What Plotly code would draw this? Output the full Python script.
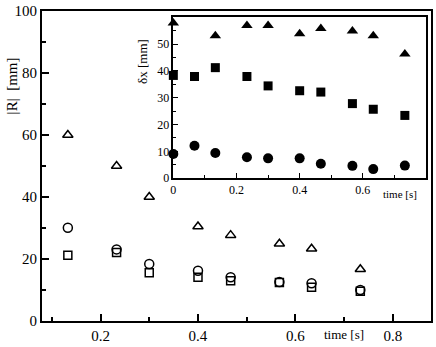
import plotly.graph_objects as go

# main plot: |R| vs time
t_main = [0.133, 0.233, 0.3, 0.4, 0.467, 0.567, 0.633, 0.733]
r_tri = [60, 50, 40, 30.5, 27.7, 24.9, 23.3, 16.7]
r_circ = [30.1, 23.1, 18.4, 16.2, 14.1, 12.6, 12.2, 10.0]
r_sq = [21.2, 22.1, 15.6, 14.1, 13.0, 12.4, 10.9, 9.6]

# inset: delta x vs time
t_in_tri = [0, 0.133, 0.233, 0.3, 0.4, 0.467, 0.567, 0.633, 0.733]
dx_tri = [57.8, 53.1, 56.9, 56.9, 53.8, 55.8, 54.9, 53.1, 46.3]
t_in = [0, 0.067, 0.133, 0.233, 0.3, 0.4, 0.467, 0.567, 0.633, 0.733]
dx_sq = [38.3, 37.9, 41.2, 37.9, 34.4, 32.6, 32.1, 27.8, 25.7, 23.4]
dx_circ = [9.0, 12.1, 9.4, 7.8, 7.4, 7.4, 5.4, 4.6, 3.4, 4.7]

FONT = "Liberation Serif"

fig = go.Figure()

def open_marker(sym, size):
    return dict(symbol=sym, size=size, color="black", line=dict(color="black", width=1.5))

fig.add_trace(go.Scatter(x=t_main, y=r_tri, mode="markers", marker=open_marker("triangle-up-open", 9)))
fig.add_trace(go.Scatter(x=t_main, y=r_circ, mode="markers", marker=open_marker("circle-open", 9)))
fig.add_trace(go.Scatter(x=t_main, y=r_sq, mode="markers", marker=open_marker("square-open", 8)))

fig.add_trace(go.Scatter(x=t_in_tri, y=dx_tri, mode="markers", xaxis="x2", yaxis="y2", cliponaxis=False,
                         marker=dict(symbol="triangle-up", size=10, color="black")))
fig.add_trace(go.Scatter(x=t_in, y=dx_sq, mode="markers", xaxis="x2", yaxis="y2", cliponaxis=False,
                         marker=dict(symbol="square", size=9, color="black")))
fig.add_trace(go.Scatter(x=t_in, y=dx_circ, mode="markers", xaxis="x2", yaxis="y2", cliponaxis=False,
                         marker=dict(symbol="circle", size=10, color="black")))

fig.update_layout(
    width=436, height=347,
    margin=dict(l=42, r=3, t=11, b=24),
    plot_bgcolor="white", paper_bgcolor="white",
    showlegend=False,
    font=dict(family=FONT, size=14, color="black"),
    xaxis=dict(range=[0.08, 0.878], tickvals=[0.2, 0.4, 0.6, 0.8], ticktext=["0.2", "0.4", "0.6", "0.8"],
               ticks="inside", ticklen=7, tickwidth=1.5, tickcolor="black",
               minor=dict(tickvals=[0.1, 0.3, 0.5, 0.7], ticks="inside", ticklen=4, tickcolor="black"),
               showline=True, linewidth=2, linecolor="black", mirror=True, showgrid=False, zeroline=False,
               tickfont=dict(size=15)),
    yaxis=dict(range=[0, 100], tickvals=[0, 20, 40, 60, 80, 100],
               ticks="inside", ticklen=7, tickwidth=1.5, tickcolor="black",
               minor=dict(tickvals=[10, 30, 50, 70, 90], ticks="inside", ticklen=4, tickcolor="black"),
               showline=True, linewidth=2, linecolor="black", mirror=True, showgrid=False, zeroline=False,
               tickfont=dict(size=15)),
    xaxis2=dict(domain=[0.3376, 0.988], anchor="y2", range=[0, 0.801],
                tickvals=[0, 0.2, 0.4, 0.6], ticktext=["0", "0.2", "0.4", "0.6"],
                ticks="inside", ticklen=5, tickwidth=1, tickcolor="black",
                minor=dict(tickvals=[0.1, 0.3, 0.5, 0.7, 0.8], ticks="inside", ticklen=3, tickcolor="black"),
                showline=True, linewidth=1.5, linecolor="black", mirror=True, showgrid=False, zeroline=False,
                tickfont=dict(size=12)),
    yaxis2=dict(domain=[0.4606, 0.98], anchor="x2", range=[0, 60],
                tickvals=[0, 10, 20, 30, 40, 50],
                ticks="inside", ticklen=5, tickwidth=1, tickcolor="black",
                minor=dict(tickvals=[5, 15, 25, 35, 45, 55], ticks="inside", ticklen=3, tickcolor="black"),
                showline=True, linewidth=1.5, linecolor="black", mirror=True, showgrid=False, zeroline=False,
                tickfont=dict(size=12)),
)

fig.add_annotation(text="time [s]", xref="paper", yref="paper", x=0.777, y=-0.045,
                   showarrow=False, font=dict(size=13), xanchor="center", yanchor="middle")
fig.add_annotation(text="|R|  [mm]", xref="paper", yref="paper", x=-0.077, y=0.757, textangle=-90,
                   showarrow=False, font=dict(size=15), xanchor="center", yanchor="middle")
fig.add_annotation(text="time [s]", xref="paper", yref="paper", x=0.921, y=0.41,
                   showarrow=False, font=dict(size=11), xanchor="center", yanchor="middle")
fig.add_annotation(text="δx [mm]", xref="paper", yref="paper", x=0.258, y=0.837, textangle=-90,
                   showarrow=False, font=dict(size=13), xanchor="center", yanchor="middle")

# drop the default 8px body margin so the figure fills the window
fig.write_html("out.html", config={"displayModeBar": False},
               post_script="document.body.style.margin='0';")
